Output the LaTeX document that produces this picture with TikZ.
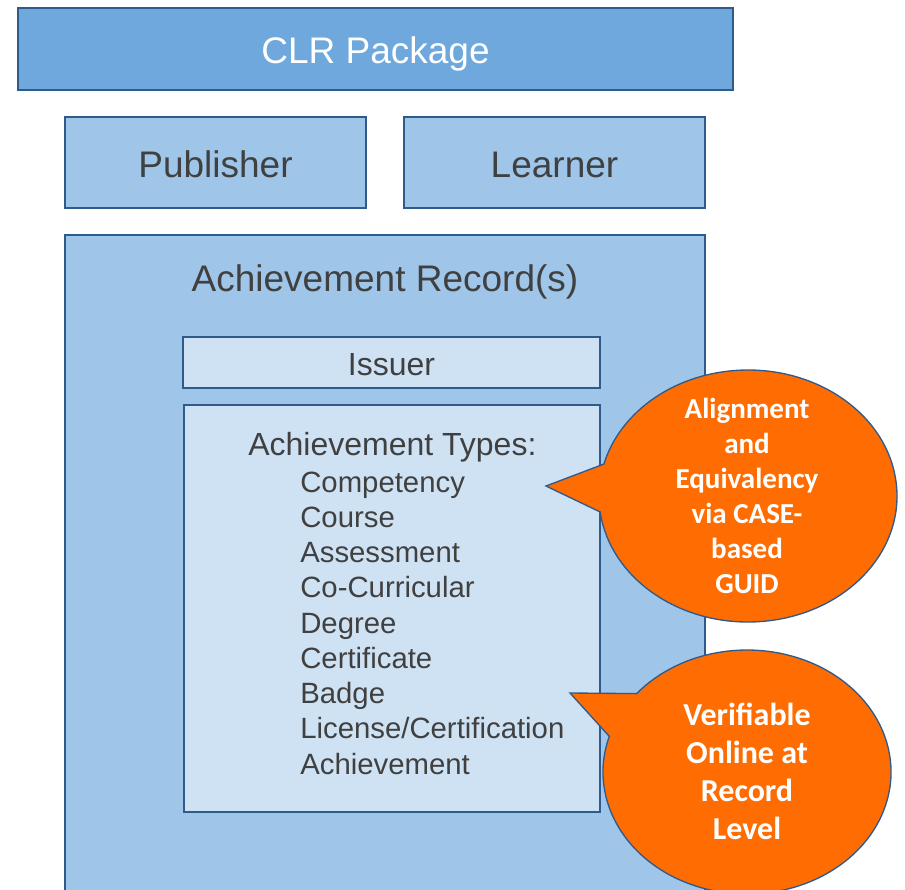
\documentclass[tikz,border=0pt]{standalone}
\usepackage{fontspec}
\setmainfont{Liberation Sans}
\newfontfamily\calfont{Carlito}
\usetikzlibrary{calc}
\definecolor{clrblue}{HTML}{6FA8DC}
\definecolor{midblue}{HTML}{9FC5E8}
\definecolor{paleblue}{HTML}{CFE2F3}
\definecolor{edgeblue}{HTML}{2F5A8C}
\definecolor{calloutorange}{HTML}{FF6C02}
\definecolor{textgray}{HTML}{404040}
\begin{document}
\begin{tikzpicture}[x=0.75pt,y=-0.75pt,
  box/.style={draw=edgeblue,line width=1.3pt},
  biglabel/.style={anchor=base,inner sep=0pt,text=textgray,font=\fontsize{27.75}{33}\selectfont},
  smalllabel/.style={anchor=base,inner sep=0pt,text=textgray,font=\fontsize{24}{28}\selectfont},
  itemlabel/.style={anchor=base west,inner sep=0pt,text=textgray,font=\fontsize{22}{26}\selectfont},
  callout/.style={draw=edgeblue,line width=1pt,fill=calloutorange},
  callouttext/.style={align=center,text=white,inner sep=0pt}]
\useasboundingbox (0,0) rectangle (905,889);
\clip (0,0) rectangle (905,889);

% boxes
\draw[box,fill=clrblue] (18,8) rectangle (733,90);
\node[biglabel,text=white] (clr) at (375.5,63) {CLR Package};

\draw[box,fill=midblue] (65,117) rectangle (366,208);
\node[biglabel] (pub) at (215.5,177) {Publisher};
\draw[box,fill=midblue] (404,117) rectangle (705,208);
\node[biglabel] (lrn) at (554.5,177) {Learner};

\draw[box,fill=midblue] (65,235) rectangle (705,900);
\node[biglabel] (rec) at (385,291) {Achievement Record(s)};

\draw[box,fill=paleblue] (183,337) rectangle (600,388);
\node[smalllabel] (iss) at (391.5,375) {Issuer};

\draw[box,fill=paleblue] (184,405) rectangle (600,812);
\node[smalllabel,anchor=base west] (types) at (248,455) {Achievement Types:};
\foreach \t [count=\i] in {Competency,Course,Assessment,Co-Curricular,Degree,Certificate,Badge,License/Certification,Achievement}{
  \node[itemlabel] (item\i) at (300,{492+35.25*(\i-1)}) {\t};
}

% callout 1
\coordinate (c1) at (748,496);
\coordinate (tip1) at (546,486);
\draw[callout] (tip1) -- ($(c1)+(172.7:149 and 126)$) arc[start angle=172.7,end angle=-165.3,x radius=149,y radius=126] -- cycle;
\node[callouttext,font=\calfont\bfseries\fontsize{21.75}{26.25}\selectfont] (align) at (747,496) {Alignment\\and\\Equivalency\\via CASE-\\based\\GUID};

% callout 2
\coordinate (c2) at (747,772);
\coordinate (tip2) at (570,693);
\draw[callout] (tip2) -- ($(c2)+(197:144 and 122)$) arc[start angle=197,end angle=-140,x radius=144,y radius=122] -- cycle;
\node[callouttext,font=\calfont\bfseries\fontsize{24}{28.5}\selectfont] (verif) at (747,771.5) {Verifiable\\Online at\\Record\\Level};
\end{tikzpicture}
\end{document}
